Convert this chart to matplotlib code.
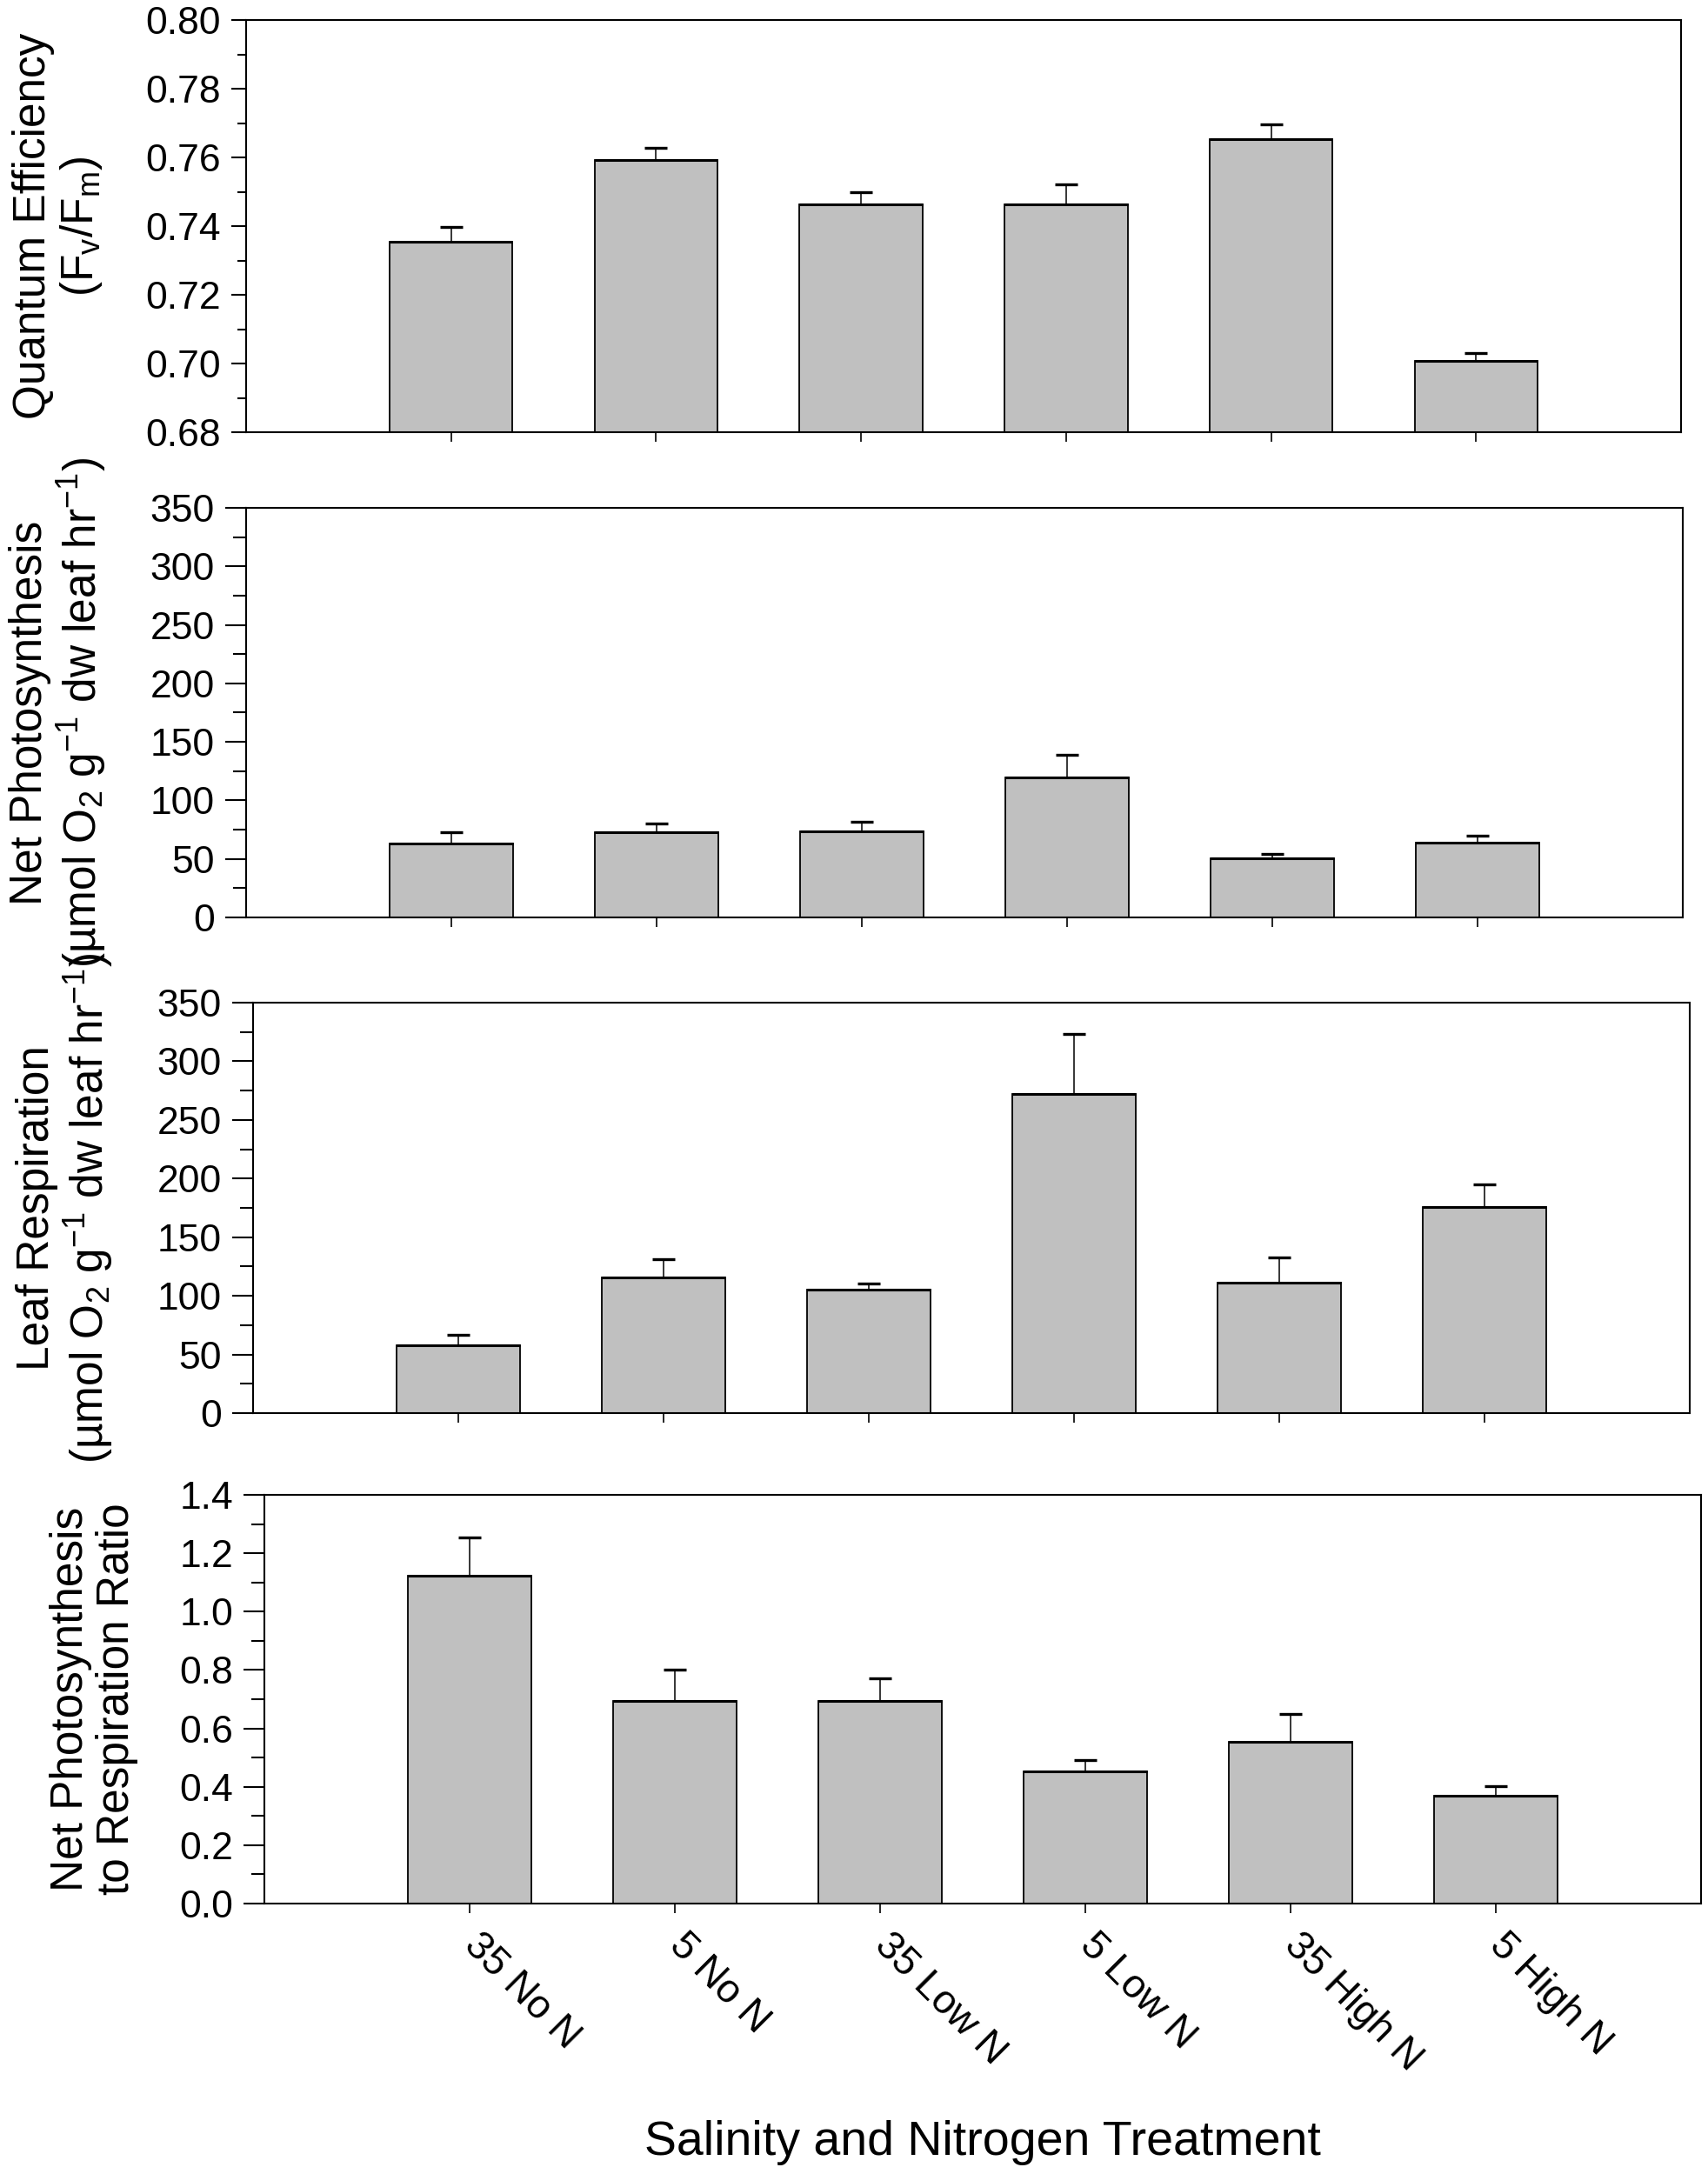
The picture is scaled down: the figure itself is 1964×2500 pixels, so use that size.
import matplotlib
matplotlib.use("Agg")
import matplotlib.pyplot as plt
import numpy as np
from matplotlib.ticker import MultipleLocator, FormatStrFormatter

plt.rcParams['font.family'] = ['Liberation Sans', 'DejaVu Sans']
plt.rcParams['mathtext.fontset'] = 'custom'
plt.rcParams['mathtext.rm'] = 'Liberation Sans'
plt.rcParams['mathtext.it'] = 'Liberation Sans:italic'
plt.rcParams['mathtext.bf'] = 'Liberation Sans:bold'

# treatments (salinity + nitrogen level)
categories = ["35 No N", "5 No N", "35 Low N", "5 Low N", "35 High N", "5 High N"]

# quantum efficiency Fv/Fm
qe = [0.7355, 0.7593, 0.7464, 0.7464, 0.7652, 0.7007]
qe_err = [0.0042, 0.0036, 0.0034, 0.0057, 0.0043, 0.0024]

# net photosynthesis
net_ps = [62.8, 72.6, 73.3, 119.5, 50.5, 63.6]
net_ps_err = [9.8, 7.4, 8.2, 19.2, 3.9, 6.4]

# leaf respiration
resp = [57.9, 115.6, 105.0, 272.5, 111.1, 175.4]
resp_err = [9.0, 15.7, 5.3, 51.0, 21.5, 19.4]

# photosynthesis to respiration ratio
ratio = [1.123, 0.693, 0.693, 0.453, 0.554, 0.368]
ratio_err = [0.131, 0.109, 0.079, 0.039, 0.095, 0.033]

W, H = 1964, 2500
fig = plt.figure(figsize=(W / 100, H / 100), dpi=100)


def px_axes(left, right, top, bottom):
    return fig.add_axes([left / W, 1 - bottom / H, (right - left) / W, (bottom - top) / H])


panels = [
    # values, errors, ylim, major, minor, fmt, ylabel, box(px), tick lengths
    (qe, qe_err, (0.68, 0.80), 0.02, 0.01, "%.2f",
     "Quantum Efficiency\n(F$_\\mathrm{v}$/F$_\\mathrm{m}$)", (283, 1933, 23, 497), (12, 7)),
    (net_ps, net_ps_err, (0, 350), 50, 25, "%d",
     "Net Photosynthesis\n(\u00b5mol O$_2$ g$^{-1}$ dw leaf hr$^{-1}$)", (283, 1935, 584, 1055), (17, 11)),
    (resp, resp_err, (0, 350), 50, 25, "%d",
     "Leaf Respiration\n(\u00b5mol O$_2$ g$^{-1}$ dw leaf hr$^{-1}$)", (291, 1943, 1153, 1625), (17, 11)),
    (ratio, ratio_err, (0, 1.4), 0.2, 0.1, "%.1f",
     "Net Photosynthesis\nto Respiration Ratio", (304, 1956, 1719, 2189), (17, 11)),
]

x = np.arange(1, len(categories) + 1)
bw = 0.6

for i, (vals, errs, ylim, major, minor, fmt, ylab, box, tl) in enumerate(panels):
    ax = px_axes(*box)
    vals = np.array(vals)
    errs = np.array(errs)
    ax.bar(x, vals, width=bw, color="#c0c0c0", edgecolor="black", linewidth=1.3, zorder=2)
    # heavier line on top of each bar
    ax.hlines(vals, x - bw / 2, x + bw / 2, colors="black", linewidth=2.2, zorder=3)
    # upward error bars with a cap on top only
    ax.vlines(x, vals, vals + errs, colors="black", linewidth=1.1, zorder=3)
    ax.plot(x, vals + errs, ls="none", marker="_", markersize=19, mew=2.4,
            color="black", zorder=3)
    ax.set_xlim(0, 7)
    ax.set_ylim(*ylim)
    ax.yaxis.set_major_locator(MultipleLocator(major))
    ax.yaxis.set_minor_locator(MultipleLocator(minor))
    ax.yaxis.set_major_formatter(FormatStrFormatter(fmt))
    ax.set_xticks(x)
    for s in ax.spines.values():
        s.set_linewidth(1.5)
    ax.tick_params(axis="y", which="major", direction="out", length=tl[0], width=1.5,
                   labelsize=32, pad=9)
    ax.tick_params(axis="y", which="minor", direction="out", length=tl[1], width=1.5)
    ax.tick_params(axis="x", which="major", direction="out", length=8, width=1.2,
                   labelsize=33, pad=22)
    ax.set_ylabel(ylab, fontsize=37, labelpad=34, linespacing=1.1)
    if i < 3:
        ax.set_xticklabels([])
    else:
        ax.set_xticklabels(categories)
        plt.setp(ax.get_xticklabels(), rotation=-45, ha="left", va="center",
                 rotation_mode="anchor")

fig.text(1130 / W, 22 / H, "Salinity and Nitrogen Treatment", fontsize=40,
         ha="center", va="baseline")

fig.savefig("out.png", dpi=100, facecolor="white")
